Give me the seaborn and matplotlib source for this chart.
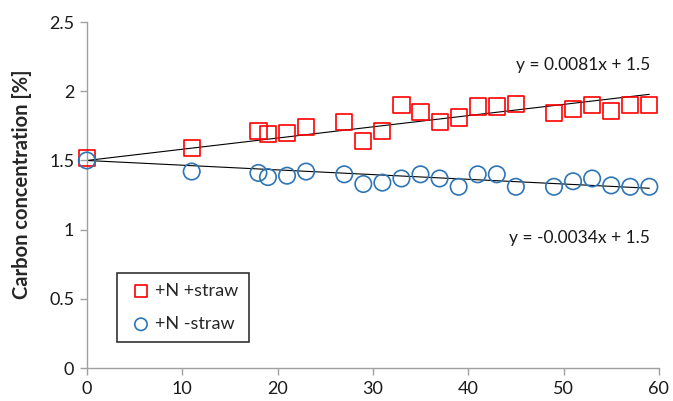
import numpy as np
import pandas as pd
import matplotlib
matplotlib.use("Agg")
import matplotlib.pyplot as plt
import seaborn as sns
from matplotlib.ticker import FuncFormatter

# ---- data ----
days = [0, 11, 18, 19, 21, 23, 27, 29, 31, 33, 35, 37, 39, 41, 43, 45, 49, 51, 53, 55, 57, 59]
straw_plus = [1.52, 1.59, 1.71, 1.69, 1.70, 1.74, 1.78, 1.64, 1.71, 1.90, 1.85, 1.78,
              1.81, 1.89, 1.89, 1.91, 1.84, 1.87, 1.90, 1.86, 1.90, 1.90]
straw_minus = [1.50, 1.42, 1.41, 1.38, 1.39, 1.42, 1.40, 1.33, 1.34, 1.37, 1.40, 1.37,
               1.31, 1.40, 1.40, 1.31, 1.31, 1.35, 1.37, 1.32, 1.31, 1.31]
series_labels = ["+N +straw", "+N -straw"]
trend_slopes = [0.0081, -0.0034]
trend_intercepts = [1.5, 1.5]
trend_texts = ["y = 0.0081x + 1.5", "y = -0.0034x + 1.5"]
x_ticks = [0, 10, 20, 30, 40, 50, 60]
y_ticks = [0, 0.5, 1, 1.5, 2, 2.5]
y_label = "Carbon concentration [%]"

sns.set_style("white")
plt.rcParams['font.family'] = ['Lato', 'DejaVu Sans']

fig = plt.figure(figsize=(6.73, 4.01), dpi=100)
ax = fig.add_axes([0.129, 0.082, 0.850, 0.863])

red = "#FF0000"
blue = "#2E75B6"
txt = "#1a1a1a"

# trend lines
x_fit = np.array([days[0], days[-1]])
for slope, icpt in zip(trend_slopes, trend_intercepts):
    dfl = pd.DataFrame({"x": x_fit, "y": icpt + slope * x_fit})
    sns.lineplot(data=dfl, x="x", y="y", ax=ax, color="black", linewidth=0.8,
                 legend=False, zorder=1)

df = pd.DataFrame({"day": days, "plus": straw_plus, "minus": straw_minus})
sns.scatterplot(data=df, x="day", y="plus", ax=ax, marker="s", s=135,
                facecolor="none", edgecolor=red, linewidth=1.2,
                label=series_labels[0], zorder=3)
sns.scatterplot(data=df, x="day", y="minus", ax=ax, marker="o", s=140,
                facecolor="none", edgecolor=blue, linewidth=1.2,
                label=series_labels[1], zorder=3)

ax.set_xlim(0, 60)
ax.set_ylim(0, 2.5)
ax.set_xticks(x_ticks)
ax.set_yticks(y_ticks)
ax.yaxis.set_major_formatter(FuncFormatter(lambda v, p: f"{v:g}"))
ax.set_xlabel("")
ax.set_ylabel(y_label, fontsize=14.5, fontweight="bold")
ax.yaxis.set_label_coords(-0.095, 0.53)

for s in ["top", "right"]:
    ax.spines[s].set_visible(False)
for s in ["left", "bottom"]:
    ax.spines[s].set_color("#A0A0A0")
    ax.spines[s].set_linewidth(1.0)
ax.tick_params(axis="both", which="major", direction="out", length=5, width=1,
               color="#A0A0A0", labelsize=13, labelcolor=txt, pad=4)
ax.tick_params(axis="both", left=True, bottom=True)
for coll in ax.collections:
    coll.set_clip_on(False)

# equations
ax.text(0.985, 0.875, trend_texts[0], transform=ax.transAxes, ha="right", va="center",
        fontsize=12.5, color=txt)
ax.text(0.985, 0.375, trend_texts[1], transform=ax.transAxes, ha="right", va="center",
        fontsize=12.5, color=txt)

leg = ax.legend(loc="upper left", bbox_to_anchor=(0.052, 0.275), frameon=True,
                fancybox=False, edgecolor="black", fontsize=13, markerscale=0.75,
                handletextpad=0.0, borderpad=0.55, labelspacing=0.95,
                handlelength=1.6, borderaxespad=0)
leg.get_frame().set_linewidth(1.2)

fig.savefig("out.png", dpi=100)
